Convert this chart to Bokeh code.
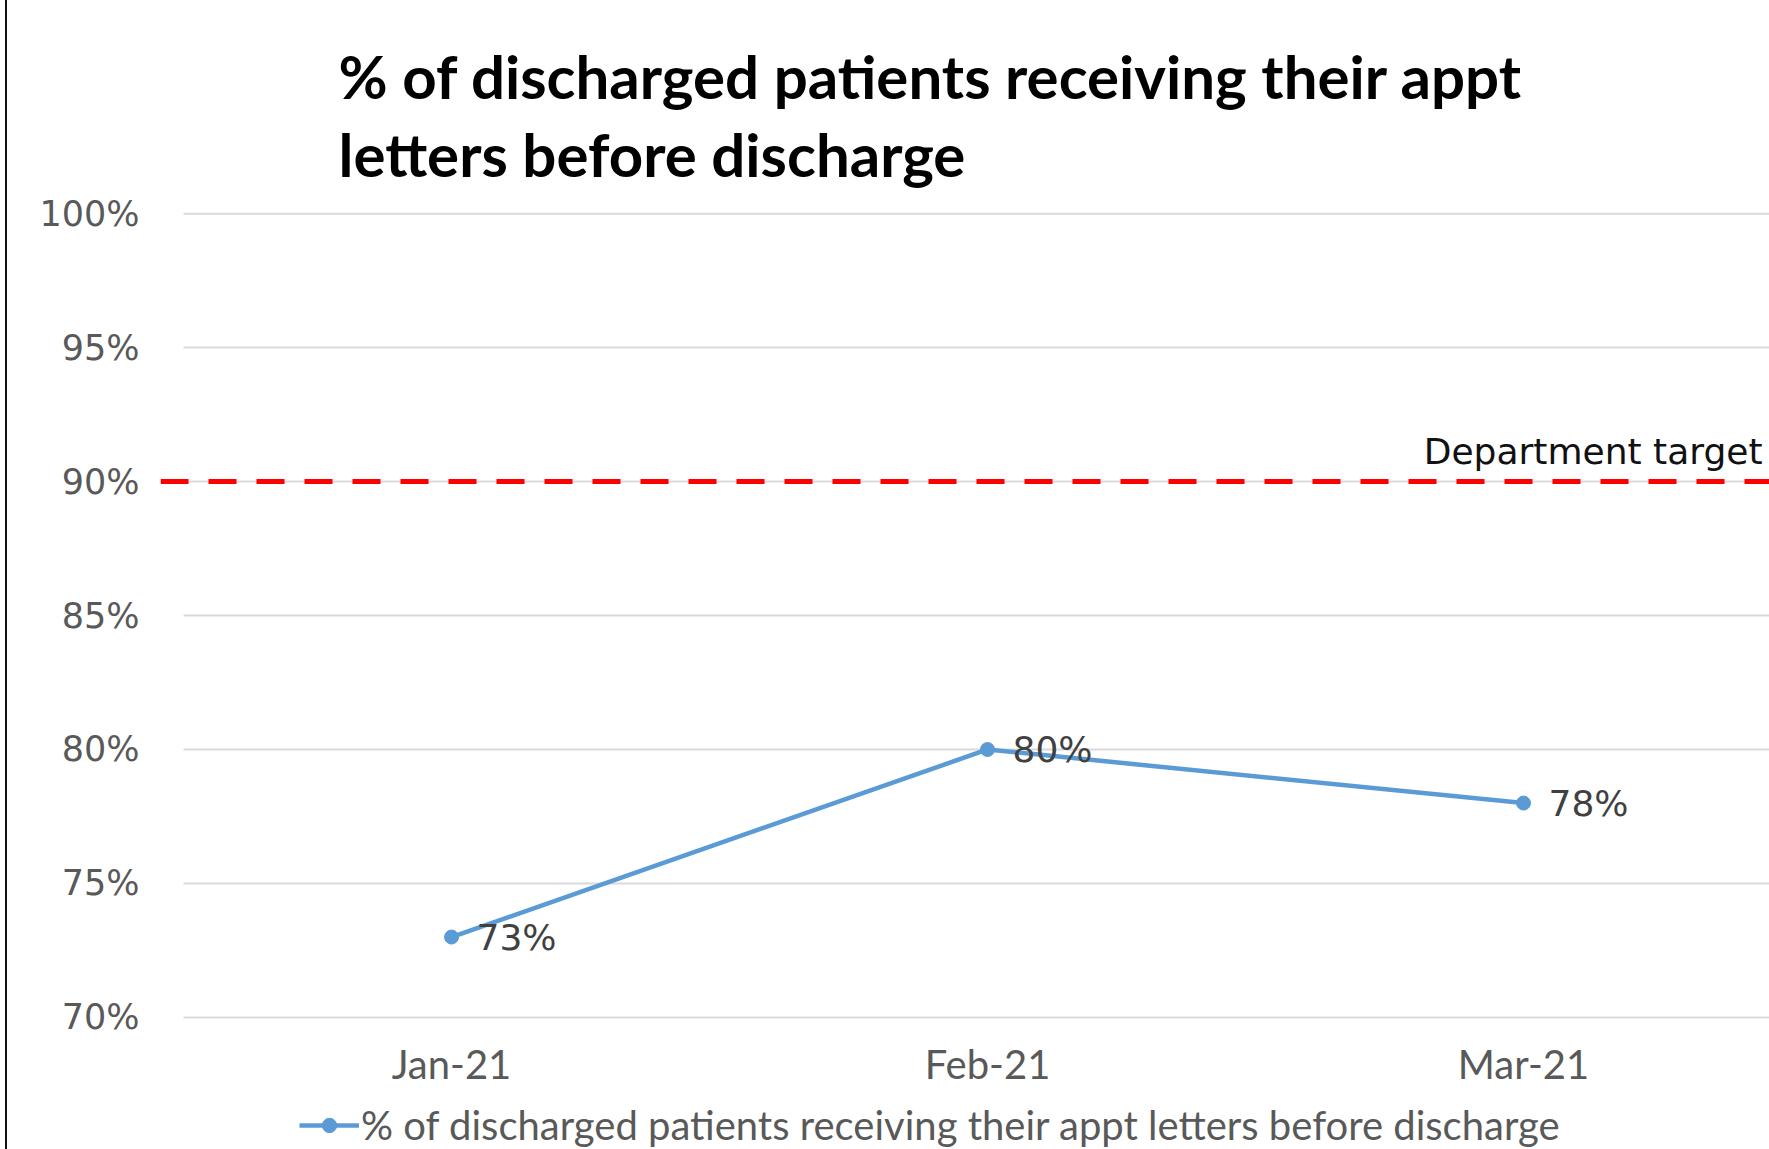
from bokeh.plotting import figure
from bokeh.models import (Range1d, Title, Legend, LegendItem, FixedTicker,
                          ColumnDataSource, Label, LabelSet)
from bokeh.core.properties import value
from bokeh.embed import file_html
from bokeh.resources import INLINE

# ---- data ----
months = ["Jan-21", "Feb-21", "Mar-21"]
pct = [73, 80, 78]
target = 90
y_ticks = [70, 75, 80, 85, 90, 95, 100]
title_lines = ["% of discharged patients receiving their appt",
               "letters before discharge"]
series_name = "% of discharged patients receiving their appt letters before discharge"
target_label = "Department target"

# ---- layout ----
xpos = list(range(len(months)))
x_start, x_end = -0.543, 2.459
y_lo = y_ticks[0]

p = figure(frame_width=1609, frame_height=938, output_backend="svg",
           toolbar_location=None,
           x_range=Range1d(x_start, x_end), y_range=Range1d(65.07, 100.08),
           min_border_left=153, min_border_right=0, min_border_top=211,
           min_border_bottom=0)
p.outline_line_color = None
p.xgrid.visible = False
p.ygrid.visible = False
p.background_fill_color = "white"
p.border_fill_color = "white"
p.styles = {"border-left": "2px solid #111111", "margin-left": "5px"}

# title (two lines)
t = Title(text="\n".join(title_lines), align="left", offset=178,
          text_font="Lato", text_font_style="bold", text_line_height=1.083,
          text_font_size="60px", text_color="black", standoff=43)
p.add_layout(t, "above")

# gridlines (horizontal)
p.segment(x0=[-0.5] * len(y_ticks), x1=[x_end] * len(y_ticks),
          y0=y_ticks, y1=y_ticks, line_color="#d9d9d9", line_width=2)

# target line
p.line(x=[x_start, x_end], y=[target, target], line_color="#ff0000",
       line_width=5, line_dash="28 20")
p.add_layout(Label(x=x_end, y=target, text=target_label, text_align="right",
                   text_baseline="middle", y_offset=30, x_offset=-7,
                   text_font="DejaVu Sans", text_font_size="36px",
                   text_color="#111111"))

# series
src = ColumnDataSource(dict(x=xpos, y=pct, lab=[f"{v}%" for v in pct]))
ln = p.line("x", "y", source=src, line_color="#5B9BD5", line_width=4.5)
sc = p.scatter("x", "y", source=src, size=14, fill_color="#5B9BD5",
               line_color="#5B9BD5")
p.add_layout(LabelSet(x="x", y="y", text="lab", source=src, x_offset=25,
                      text_baseline="middle", text_font=value("DejaVu Sans"),
                      text_font_size=value("36px"), text_color="#404040"))

# category (month) labels under the 70% line
msrc = ColumnDataSource(dict(x=xpos, y=[y_lo] * len(months), m=months))
p.add_layout(LabelSet(x="x", y="y", text="m", source=msrc, y_offset=-47,
                      text_align="center", text_baseline="middle",
                      text_font=value("Lato"), text_font_size=value("40px"),
                      text_color="#595959"))

# axes
p.yaxis.ticker = FixedTicker(ticks=y_ticks)
p.yaxis.major_label_overrides = {v: f"{v}%" for v in y_ticks}
p.yaxis.axis_line_color = None
p.yaxis.major_tick_line_color = None
p.yaxis.minor_tick_line_color = None
p.yaxis.major_label_standoff = 15
p.yaxis.major_label_text_font = "DejaVu Sans"
p.yaxis.major_label_text_font_size = "35px"
p.yaxis.major_label_text_color = "#595959"
p.xaxis.visible = False

# legend under the month labels
legend = Legend(items=[LegendItem(label=series_name, renderers=[ln, sc])],
                location=(139, 0), orientation="horizontal",
                label_text_font="Lato", label_text_font_size="40px",
                label_text_color="#595959", glyph_width=60, glyph_height=36,
                border_line_color=None, background_fill_alpha=0,
                padding=0, margin=0, label_standoff=2)
p.add_layout(legend, "center")

open("out.html", "w").write(file_html(p, INLINE))
